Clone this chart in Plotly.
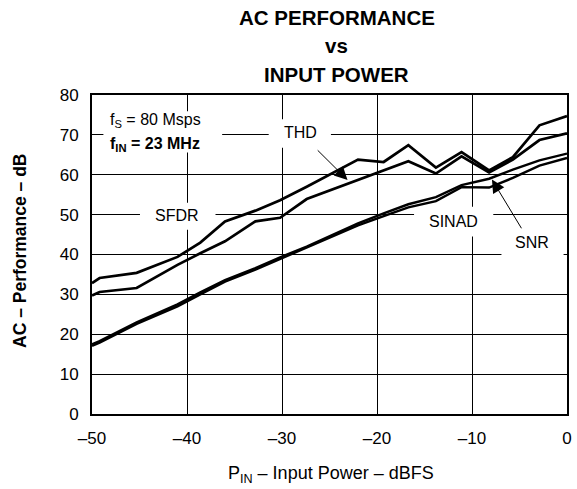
import plotly.graph_objects as go

# ---- data ----
p_in = [-50, -49.2, -45.3, -41, -38.6, -36, -32.8, -30.2, -27.4, -22, -19.3, -16.7, -13.8, -11.1, -8.2, -5.7, -2.9, 0]
sfdr = [32.8, 34.1, 35.4, 39.4, 43.0, 48.3, 51.0, 53.6, 57.0, 63.8, 63.2, 67.4, 61.8, 65.7, 61.1, 64.4, 72.4, 74.7]
thd = [29.7, 30.6, 31.6, 37.4, 40.3, 43.3, 48.3, 49.2, 53.9, 58.7, 61.0, 63.4, 60.3, 64.6, 60.6, 63.8, 68.7, 70.4]
snr = [17.5, 18.3, 23.0, 27.5, 30.5, 33.6, 36.6, 39.3, 42.0, 47.8, 50.3, 52.6, 54.4, 57.4, 59.0, 61.3, 63.6, 65.3]
sinad = [17.1, 17.9, 22.6, 27.0, 30.0, 33.2, 36.2, 38.9, 41.6, 47.3, 49.6, 51.8, 53.4, 56.9, 56.8, 59.2, 62.3, 64.2]

x_ticks = [-50, -40, -30, -20, -10, 0]
x_tick_text = ["\u201350", "\u201340", "\u201330", "\u201320", "\u201310", "0"]
y_ticks = [0, 10, 20, 30, 40, 50, 60, 70, 80]

FONT = "Liberation Sans, Arial, Helvetica, sans-serif"

fig = go.Figure()
for name, vals, w in [("SFDR", sfdr, 2.7), ("THD", thd, 2.7), ("SNR", snr, 2.4), ("SINAD", sinad, 2.4)]:
    fig.add_trace(go.Scatter(x=p_in, y=vals, mode="lines", name=name,
                             line=dict(color="black", width=w), showlegend=False,
                             hoverinfo="x+y+name"))

# white boxes behind labels (interrupt gridlines, stay under traces)
boxes = [(-48.8, -36.3, 65.6, 75.9),   # fS / fIN
         (-31.4, -24.85, 66.8, 73.9),  # THD
         (-44.95, -37.0, 46.2, 53.0),  # SFDR
         (-16.1, -7.76, 44.5, 52.0),   # SINAD
         (-6.9, -0.36, 39.2, 46.2)]    # SNR
for x0, x1, y0, y1 in boxes:
    fig.add_shape(type="rect", xref="x", yref="y", x0=x0, x1=x1, y0=y0, y1=y1,
                  fillcolor="white", line=dict(width=0), layer="between")

ann = []
lab_font = dict(family=FONT, size=16, color="black")
for txt, x, y in [("SFDR", -41.1, 49.8), ("THD", -28.1, 70.6), ("SINAD", -11.96, 48.2), ("SNR", -3.7, 43.0)]:
    ann.append(dict(text=txt, x=x, y=y, xref="x", yref="y", showarrow=False,
                    xanchor="center", yanchor="middle", font=lab_font))
ann.append(dict(text="f<sub>S</sub> = 80 Msps", x=-48.3, y=73.6, xref="x", yref="y",
                showarrow=False, xanchor="left", yanchor="middle", font=lab_font))
ann.append(dict(text="<b>f<sub>IN</sub> = 23 MHz</b>", x=-48.3, y=67.7, xref="x", yref="y",
                showarrow=False, xanchor="left", yanchor="middle", font=lab_font))
# arrows
for tx, ty, axv, ayv in [(-23.1, 58.7, -26.4, 66.5), (-7.9, 58.8, -4.7, 46.2)]:
    ann.append(dict(text="", x=tx, y=ty, ax=axv, ay=ayv, xref="x", yref="y", axref="x", ayref="y",
                    showarrow=True, arrowhead=2, arrowsize=2.6, arrowwidth=1, arrowcolor="black", standoff=0))
# titles
title_font = dict(family=FONT, size=20.5, color="black")
for txt, y in [("<b>AC PERFORMANCE</b>", 1.2424), ("<b>vs</b>", 1.1545), ("<b>INPUT POWER</b>", 1.0644)]:
    ann.append(dict(text=txt, x=0.515, y=y, xref="paper", yref="paper", showarrow=False,
                    xanchor="center", yanchor="middle", font=title_font))
# axis titles
ann.append(dict(text="P<sub>IN</sub> \u2013 Input Power \u2013 dBFS", x=0.504, y=-0.1884, xref="paper", yref="paper",
                showarrow=False, xanchor="center", yanchor="middle", font=dict(family=FONT, size=18, color="black")))
ann.append(dict(text="<b>AC \u2013 Performance \u2013 dB</b>", x=-0.153, y=0.512, xref="paper", yref="paper",
                showarrow=False, xanchor="center", yanchor="middle", textangle=-90,
                font=dict(family=FONT, size=17.5, color="black")))

fig.update_layout(
    width=577, height=489,
    margin=dict(l=92, r=5, t=95, b=75),
    paper_bgcolor="white", plot_bgcolor="white",
    font=dict(family=FONT, size=17, color="black"),
    annotations=ann,
)
fig.update_xaxes(range=[-50, 0], tickvals=x_ticks, ticktext=x_tick_text,
                 showgrid=True, gridcolor="black", gridwidth=1, zeroline=False,
                 showline=True, mirror=True, linecolor="black", linewidth=2,
                 ticks="outside", ticklen=8, tickcolor="rgba(0,0,0,0)",
                 tickfont=dict(family=FONT, size=17, color="black"))
fig.update_yaxes(range=[0, 80], tickvals=y_ticks,
                 showgrid=True, gridcolor="black", gridwidth=1, zeroline=False,
                 showline=True, mirror=True, linecolor="black", linewidth=2,
                 ticks="outside", ticklen=8, tickcolor="rgba(0,0,0,0)",
                 tickfont=dict(family=FONT, size=17, color="black"))

fig.write_html("out.html", config={"displayModeBar": False},
               post_script="document.body.style.margin='0';document.body.style.padding='0';")
